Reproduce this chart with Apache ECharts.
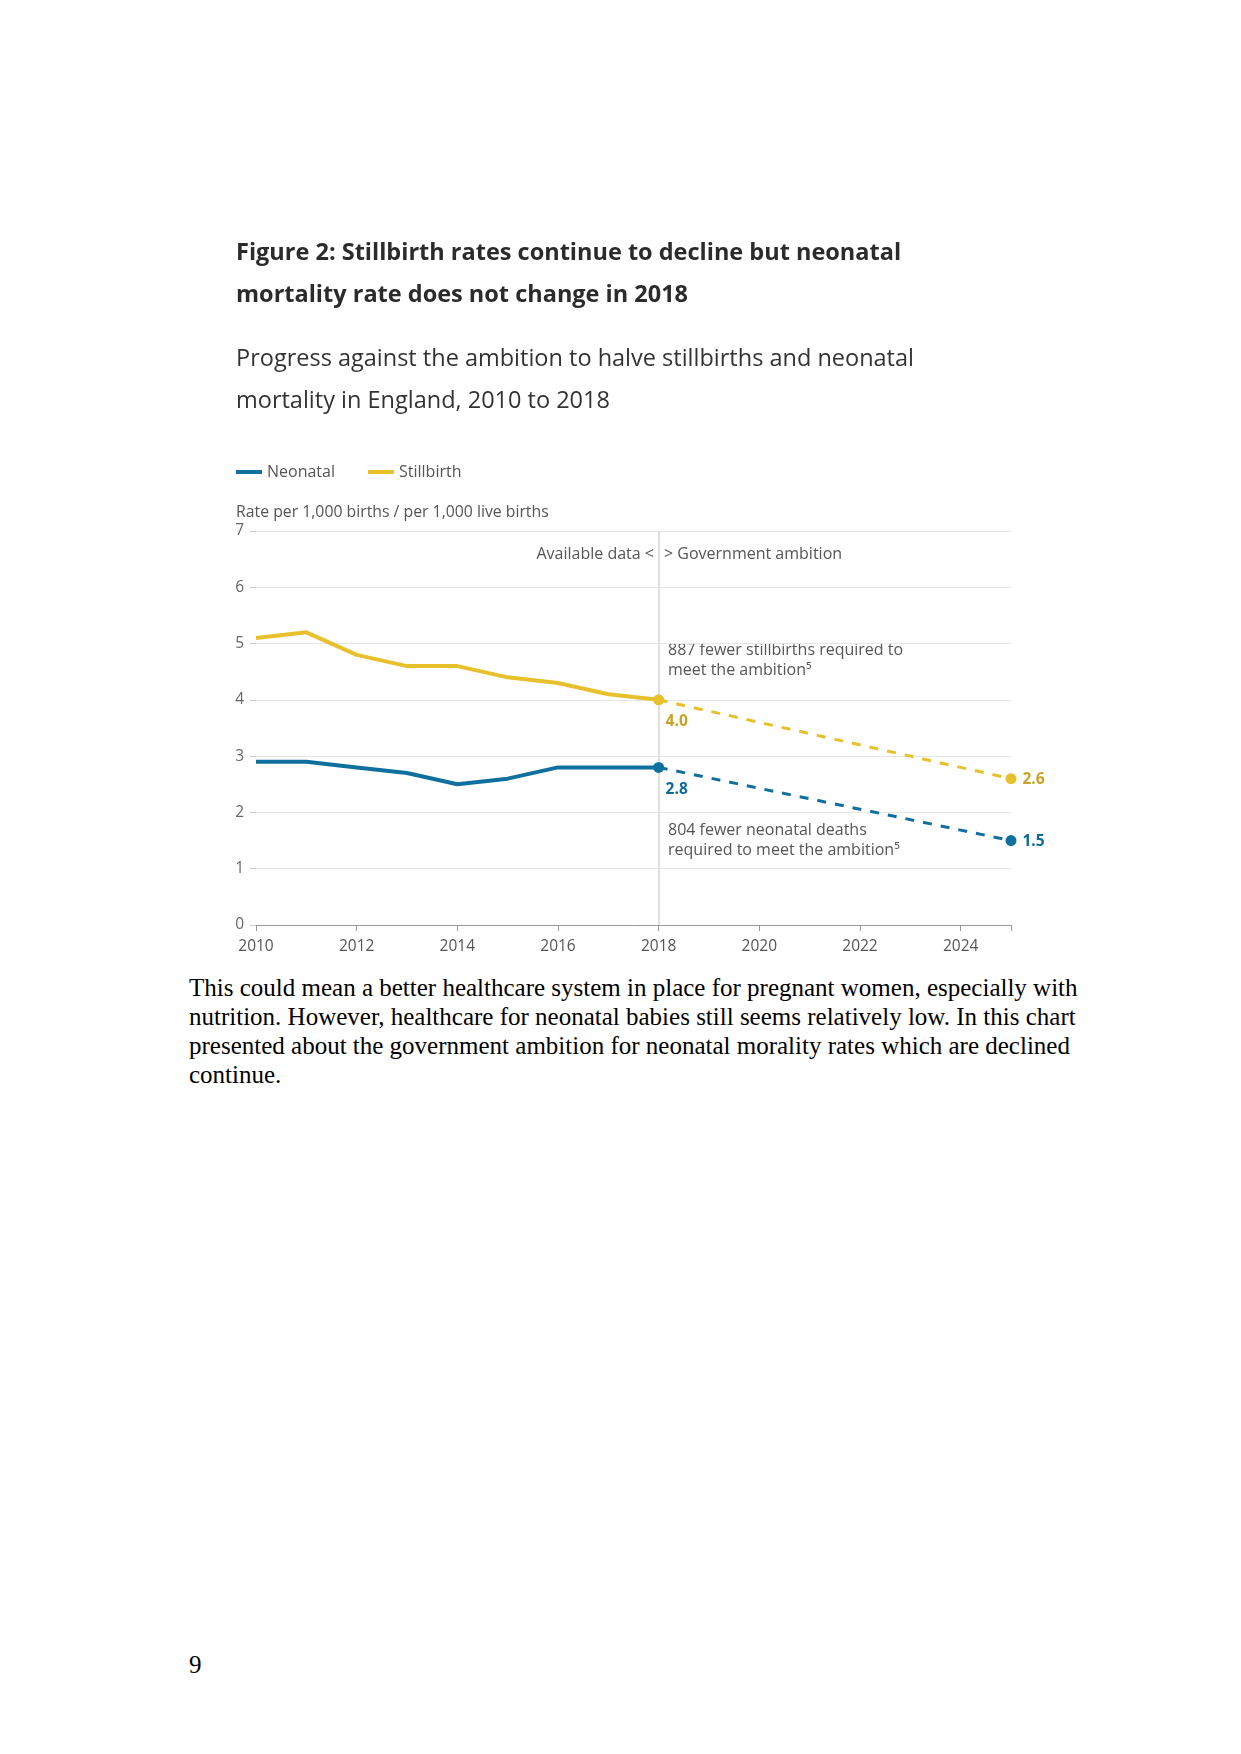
<!DOCTYPE html>
<html>
<head>
<meta charset="utf-8">
<script src="https://cdn.jsdelivr.net/npm/echarts@6/dist/echarts.min.js"></script>
<style>
  html, body { margin: 0; padding: 0; background: #ffffff; }
  body { width: 1241px; height: 1754px; position: relative; overflow: hidden; }
  #chart { position: absolute; left: 0; top: 0; width: 1241px; height: 960px; }
  #para { position: absolute; left: 189px; top: 973px; width: 920px;
          font-family: "Liberation Serif", "DejaVu Serif", serif; font-size: 25px;
          line-height: 29px; color: #000; white-space: nowrap; }
  #pagenum { position: absolute; left: 189px; top: 1651px;
          font-family: "Liberation Serif", serif; font-size: 25px; color: #000; }
</style>
</head>
<body>
<div id="chart"></div>
<div id="para">This could mean a better healthcare system in place for pregnant women, especially with<br>nutrition. However, healthcare for neonatal babies still seems relatively low. In this chart<br>presented about the government ambition for neonatal morality rates which are declined<br>continue.</div>
<div id="pagenum">9</div>
<script>
// ---- data ----
const years = [2010, 2011, 2012, 2013, 2014, 2015, 2016, 2017, 2018];
const neonatal = [2.9, 2.9, 2.8, 2.7, 2.5, 2.6, 2.8, 2.8, 2.8];
const stillbirth = [5.1, 5.2, 4.8, 4.6, 4.6, 4.4, 4.3, 4.1, 4.0];
const ambitionYears = [2018, 2025];
const neonatalAmbition = [2.8, 1.5];
const stillbirthAmbition = [4.0, 2.6];
const xTickLabels = [2010, 2012, 2014, 2016, 2018, 2020, 2022, 2024];
const xTicks = [2010, 2012, 2014, 2016, 2018, 2020, 2022, 2024, 2025];
const yTicks = [0, 1, 2, 3, 4, 5, 6, 7];
const dividerYear = 2018;

const BLUE = '#0f70a0';
const GOLD = '#e8c02c';
const GOLD_TXT = '#c9a227';
const BLUE_TXT = '#0d6a98';
const FONT = '"Open Sans", "Noto Sans", sans-serif';

const pair = (xs, ys) => xs.map((x, i) => [x, ys[i]]);
const lastIdx = years.length - 1;

const chart = echarts.init(document.getElementById('chart'), null, { renderer: 'canvas' });

function ambitionSeries(name, vals, color, txtColor) {
  const d = pair(ambitionYears, vals);
  return {
    name: name, type: 'line', data: [
      { value: d[0], symbolSize: 0, label: { show: true, position: 'bottom', offset: [18, 9], formatter: vals[0].toFixed(1) } },
      { value: d[1], symbolSize: 11, label: { show: true, position: 'right', offset: [1, 1], formatter: vals[1].toFixed(1) } }
    ],
    symbol: 'circle', showSymbol: true,
    lineStyle: { color: color, width: 3, type: [9, 9] },
    itemStyle: { color: color },
    label: { color: txtColor, fontFamily: FONT, fontSize: 15.5, fontWeight: 'bold' },
    z: 3, silent: true
  };
}

const option = {
  backgroundColor: '#ffffff',
  animation: false,
  textStyle: { fontFamily: FONT },
  title: [
    { text: 'Figure 2: Stillbirth rates continue to decline but neonatal\nmortality rate does not change in 2018',
      left: 236, top: 232, padding: 0,
      textStyle: { fontFamily: FONT, fontSize: 23.5, fontWeight: 'bold', color: '#2b2b2b', lineHeight: 42 } },
    { text: 'Progress against the ambition to halve stillbirths and neonatal\nmortality in England, 2010 to 2018',
      left: 236, top: 338, padding: 0,
      textStyle: { fontFamily: FONT, fontSize: 23.5, fontWeight: 'normal', color: '#333333', lineHeight: 42.5 } },
    { text: 'Rate per 1,000 births / per 1,000 live births',
      left: 236, top: 502, padding: 0,
      textStyle: { fontFamily: FONT, fontSize: 15.8, fontWeight: 'normal', color: '#555555', lineHeight: 20 } }
  ],
  legend: {
    left: 236, top: 464, padding: 0,
    data: [
      { name: 'Neonatal', itemStyle: { color: BLUE } },
      { name: 'Stillbirth', itemStyle: { color: GOLD } }
    ],
    icon: 'rect', itemWidth: 26, itemHeight: 4, itemGap: 33,
    textStyle: { fontFamily: FONT, fontSize: 16, color: '#555555' },
    selectedMode: false
  },
  grid: { left: 256, width: 755, top: 531, height: 394, containLabel: false },
  xAxis: {
    type: 'value', min: 2010, max: 2025, interval: 1,
    axisLine: { show: true, lineStyle: { color: '#999999', width: 1 } },
    axisTick: { show: true, length: 6, customValues: xTicks, lineStyle: { color: '#999999' } },
    axisLabel: { customValues: xTickLabels, margin: 14, fontSize: 15.5, color: '#555555', fontFamily: FONT,
                 formatter: v => String(v) },
    splitLine: { show: false }
  },
  yAxis: {
    type: 'value', min: 0, max: 7, interval: 1,
    axisLine: { show: false },
    axisTick: { show: true, length: 6, lineStyle: { color: '#cccccc' } },
    axisLabel: { margin: 12, fontSize: 15.5, color: '#666666', fontFamily: FONT,
                 customValues: yTicks, padding: [4, 0, 0, 0] },
    splitLine: { show: true, lineStyle: { color: '#e6e6e6', width: 1 } }
  },
  series: [
    {
      name: 'divider', type: 'line', data: [], z: 1, silent: true,
      markLine: {
        silent: true, symbol: ['none', 'none'], label: { show: false }, z: 1,
        lineStyle: { color: '#d4d4d4', width: 1.5, type: 'solid' },
        data: [{ xAxis: dividerYear }]
      }
    },
    ambitionSeries('Neonatal ambition', neonatalAmbition, BLUE, BLUE_TXT),
    ambitionSeries('Stillbirth ambition', stillbirthAmbition, GOLD, GOLD_TXT),
    {
      name: 'Neonatal', type: 'line', data: pair(years, neonatal),
      symbol: 'circle', showSymbol: true,
      symbolSize: (v, p) => p.dataIndex === lastIdx ? 11 : 0,
      lineStyle: { color: BLUE, width: 4 }, itemStyle: { color: BLUE },
      z: 5, silent: true
    },
    {
      name: 'Stillbirth', type: 'line', data: pair(years, stillbirth),
      symbol: 'circle', showSymbol: true,
      symbolSize: (v, p) => p.dataIndex === lastIdx ? 11 : 0,
      lineStyle: { color: GOLD, width: 4 }, itemStyle: { color: GOLD },
      z: 5, silent: true
    }
  ],
  graphic: [
    { type: 'text', right: 1241 - 654, top: 546,
      style: { text: 'Available data <', font: '16px ' + FONT, fill: '#555555' } },
    { type: 'text', left: 664, top: 546,
      style: { text: '> Government ambition', font: '16px ' + FONT, fill: '#555555' } },
    { type: 'text', left: 668, top: 640,
      style: { text: '887 fewer stillbirths required to\nmeet the ambition\u2075', font: '16px ' + FONT, fill: '#555555', lineHeight: 20 } },
    { type: 'text', left: 668, top: 820,
      style: { text: '804 fewer neonatal deaths\nrequired to meet the ambition\u2075', font: '16px ' + FONT, fill: '#555555', lineHeight: 20 } }
  ]
};
chart.setOption(option);
</script>
</body>
</html>
